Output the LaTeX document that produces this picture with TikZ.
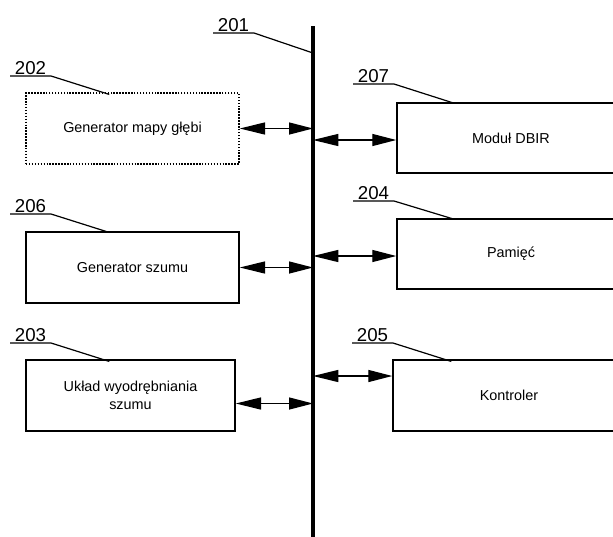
\documentclass[tikz,border=0pt]{standalone}
\usepackage{fontspec}
\setmainfont{Liberation Sans}
\usetikzlibrary{arrows.meta}
\usetikzlibrary{calc}

\tikzset{
  blockbox/.style={draw, line width=1.1pt, minimum height=53pt, font=\fontsize{10.8}{13.5}\selectfont, align=center, inner sep=0pt},
  dotbox/.style={blockbox, dash pattern={on 1.1pt off 1.1pt}},
  reflabel/.style={anchor=south west, inner xsep=3.5pt, inner ysep=0.6pt, font=\fontsize{14}{16}\selectfont},
  leader/.style={line width=0.9pt},
  busline/.style={line width=2.8pt},
  busarrow/.style={line width=1pt, {Triangle[length=19pt,width=9pt]}-{Triangle[length=18pt,width=9pt]}}
}

\begin{document}
\begin{tikzpicture}[x=0.75pt,y=0.75pt,yscale=-1,xscale=1]
\clip (0,0) rectangle (613,536);

%Straight Lines [id:bus]
\coordinate (bustop) at (313,26);
\coordinate (busbot) at (313,540);
\draw [busline] (bustop) -- (busbot);

%Shape: Rectangle [id:b202]
\node [dotbox, minimum width=159.75pt] (b202) at (132.5,128.5) {Generator mapy głębi};
%Shape: Rectangle [id:b206]
\node [blockbox, minimum width=159.75pt] (b206) at (132.5,267.5) {Generator szumu};
%Shape: Rectangle [id:b203]
\node [blockbox, minimum width=156.75pt] (b203) at (130.5,395.5) {Układ wyodrębniania\\szumu};
%Shape: Rectangle [id:b207]
\node [blockbox, minimum width=171pt, minimum height=52.5pt] (b207) at (511,138) {Moduł DBIR};
%Shape: Rectangle [id:b204]
\node [blockbox, minimum width=171pt, minimum height=52.5pt] (b204) at (511,254) {Pamięć};
%Shape: Rectangle [id:b205]
\node [blockbox, minimum width=174pt] (b205) at (509,395.5) {Kontroler};

% arrow ends at the blocks
\coordinate (p202) at (b202.east);
\coordinate (p206) at (b206.east);
\coordinate (p203) at ($(b203.east)+(0,8)$);
\coordinate (p207) at ($(b207.west)+(0,2)$);
\coordinate (p204) at ($(b204.west)+(0,2)$);
\coordinate (p205) at ($(b205.west)+(0,-19.5)$);

%Straight Lines [id:arrows left]
\draw [busarrow] (p202) -- (p202 -| bustop);
\draw [busarrow] (p206) -- (p206 -| bustop);
\draw [busarrow] (p203) -- (p203 -| bustop);
%Straight Lines [id:arrows right]
\draw [busarrow] (p207 -| bustop) -- (p207);
\draw [busarrow] (p204 -| bustop) -- (p204);
\draw [busarrow] (p205 -| bustop) -- (p205);

% Text Node
\node [reflabel] (l201) at (213,33) {201};
\node [reflabel] (l202) at (10,76) {202};
\node [reflabel] (l206) at (10,214) {206};
\node [reflabel] (l203) at (10,343) {203};
\node [reflabel] (l207) at (353,84) {207};
\node [reflabel] (l204) at (353,201) {204};
\node [reflabel] (l205) at (352,343) {205};

%Straight Lines [id:leaders]
\draw [leader] (l201.south west) -- (l201.south east) -- ($(bustop)+(0,27)$);
\draw [leader] (l202.south west) -- (l202.south east) -- ($(b202.north west)+(84,2)$);
\draw [leader] (l206.south west) -- (l206.south east) -- ($(b206.north west)+(84,1)$);
\draw [leader] (l203.south west) -- (l203.south east) -- ($(b203.north west)+(84,2)$);
\draw [leader] (l207.south west) -- (l207.south east) -- ($(b207.north west)+(58,1)$);
\draw [leader] (l204.south west) -- (l204.south east) -- ($(b204.north west)+(58,1)$);
\draw [leader] (l205.south west) -- (l205.south east) -- ($(b205.north west)+(59,2)$);

\end{tikzpicture}
\end{document}
